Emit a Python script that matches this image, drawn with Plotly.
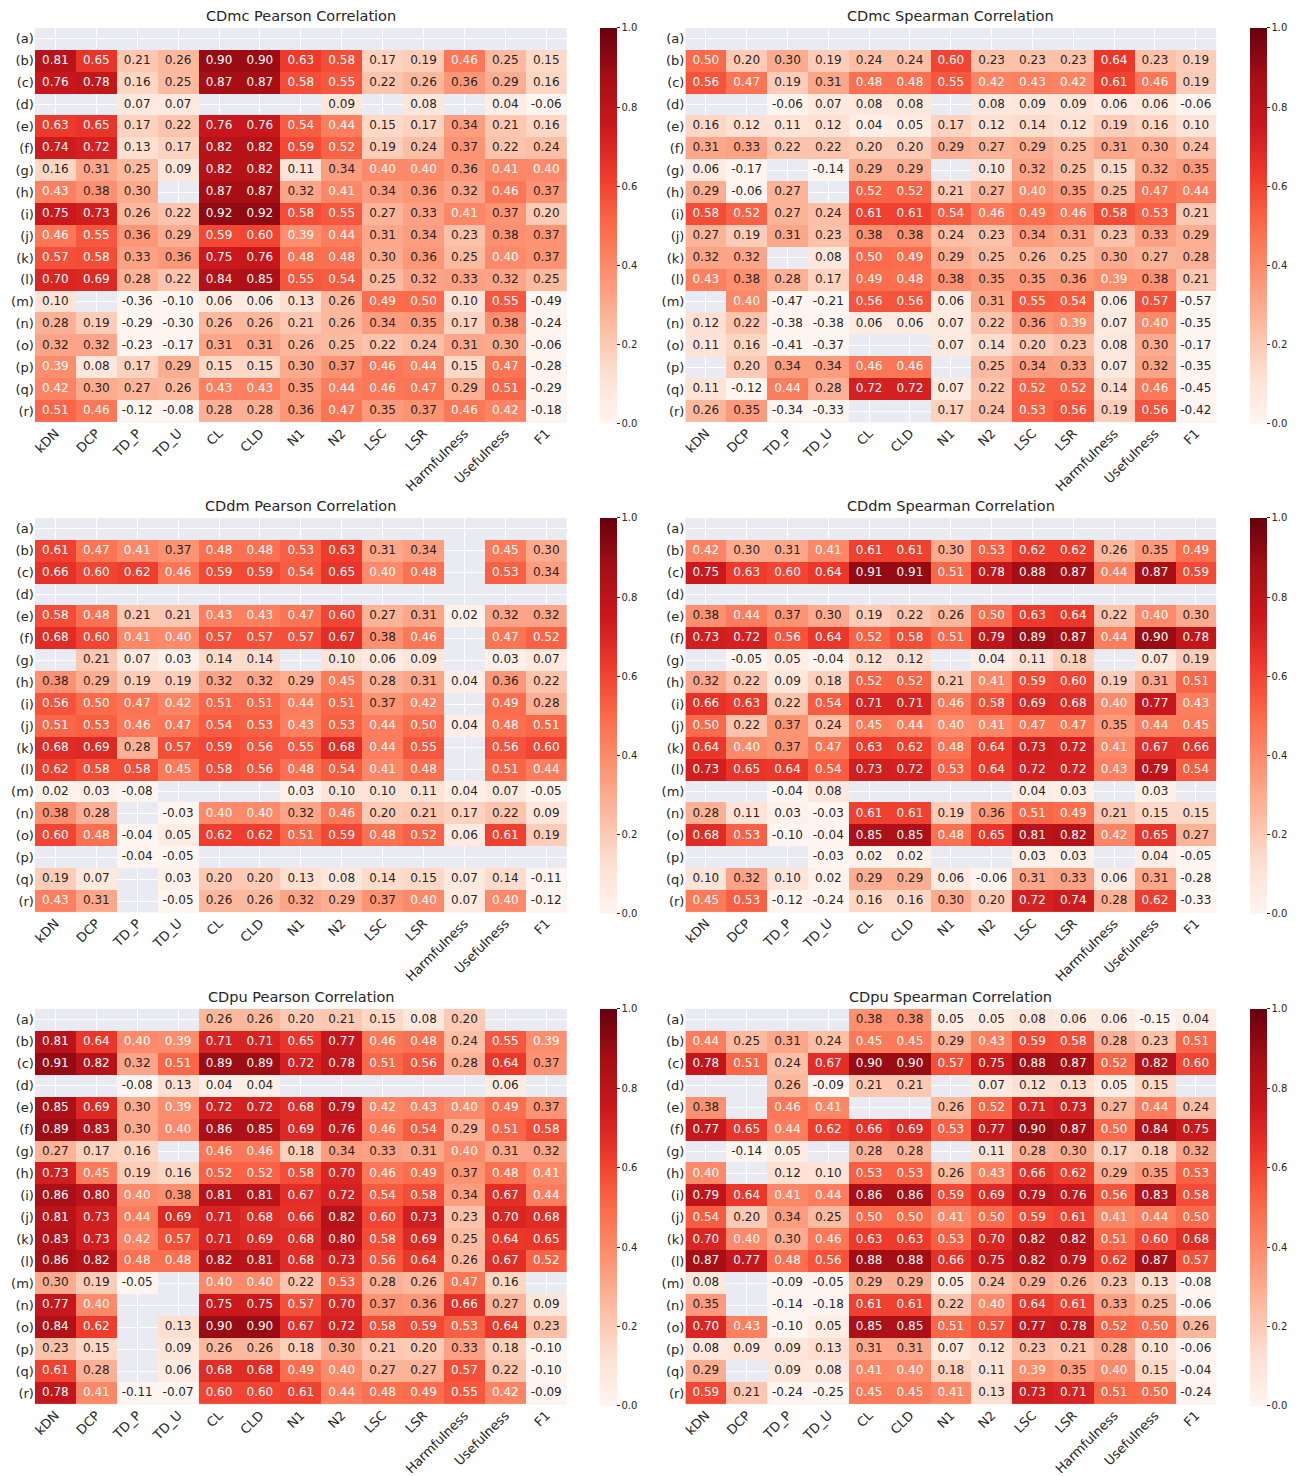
import plotly.graph_objects as go
from plotly.colors import sequential

N = None

metrics = ["kDN", "DCP", "TD_P", "TD_U", "CL", "CLD", "N1", "N2", "LSC", "LSR",
           "Harmfulness", "Usefulness", "F1"]
rows = ["(a)", "(b)", "(c)", "(d)", "(e)", "(f)", "(g)", "(h)", "(i)", "(j)",
        "(k)", "(l)", "(m)", "(n)", "(o)", "(p)", "(q)", "(r)"]

cdmc_pearson = [
    [N, N, N, N, N, N, N, N, N, N, N, N, N],
    [0.81, 0.65, 0.21, 0.26, 0.90, 0.90, 0.63, 0.58, 0.17, 0.19, 0.46, 0.25, 0.15],
    [0.76, 0.78, 0.16, 0.25, 0.87, 0.87, 0.58, 0.55, 0.22, 0.26, 0.36, 0.29, 0.16],
    [N, N, 0.07, 0.07, N, N, N, 0.09, N, 0.08, N, 0.04, -0.06],
    [0.63, 0.65, 0.17, 0.22, 0.76, 0.76, 0.54, 0.44, 0.15, 0.17, 0.34, 0.21, 0.16],
    [0.74, 0.72, 0.13, 0.17, 0.82, 0.82, 0.59, 0.52, 0.19, 0.24, 0.37, 0.22, 0.24],
    [0.16, 0.31, 0.25, 0.09, 0.82, 0.82, 0.11, 0.34, 0.40, 0.40, 0.36, 0.41, 0.40],
    [0.43, 0.38, 0.30, N, 0.87, 0.87, 0.32, 0.41, 0.34, 0.36, 0.32, 0.46, 0.37],
    [0.75, 0.73, 0.26, 0.22, 0.92, 0.92, 0.58, 0.55, 0.27, 0.33, 0.41, 0.37, 0.20],
    [0.46, 0.55, 0.36, 0.29, 0.59, 0.60, 0.39, 0.44, 0.31, 0.34, 0.23, 0.38, 0.37],
    [0.57, 0.58, 0.33, 0.36, 0.75, 0.76, 0.48, 0.48, 0.30, 0.36, 0.25, 0.40, 0.37],
    [0.70, 0.69, 0.28, 0.22, 0.84, 0.85, 0.55, 0.54, 0.25, 0.32, 0.33, 0.32, 0.25],
    [0.10, N, -0.36, -0.10, 0.06, 0.06, 0.13, 0.26, 0.49, 0.50, 0.10, 0.55, -0.49],
    [0.28, 0.19, -0.29, -0.30, 0.26, 0.26, 0.21, 0.26, 0.34, 0.35, 0.17, 0.38, -0.24],
    [0.32, 0.32, -0.23, -0.17, 0.31, 0.31, 0.26, 0.25, 0.22, 0.24, 0.31, 0.30, -0.06],
    [0.39, 0.08, 0.17, 0.29, 0.15, 0.15, 0.30, 0.37, 0.46, 0.44, 0.15, 0.47, -0.28],
    [0.42, 0.30, 0.27, 0.26, 0.43, 0.43, 0.35, 0.44, 0.46, 0.47, 0.29, 0.51, -0.29],
    [0.51, 0.46, -0.12, -0.08, 0.28, 0.28, 0.36, 0.47, 0.35, 0.37, 0.46, 0.42, -0.18],
]

cdmc_spearman = [
    [N, N, N, N, N, N, N, N, N, N, N, N, N],
    [0.50, 0.20, 0.30, 0.19, 0.24, 0.24, 0.60, 0.23, 0.23, 0.23, 0.64, 0.23, 0.19],
    [0.56, 0.47, 0.19, 0.31, 0.48, 0.48, 0.55, 0.42, 0.43, 0.42, 0.61, 0.46, 0.19],
    [N, N, -0.06, 0.07, 0.08, 0.08, N, 0.08, 0.09, 0.09, 0.06, 0.06, -0.06],
    [0.16, 0.12, 0.11, 0.12, 0.04, 0.05, 0.17, 0.12, 0.14, 0.12, 0.19, 0.16, 0.10],
    [0.31, 0.33, 0.22, 0.22, 0.20, 0.20, 0.29, 0.27, 0.29, 0.25, 0.31, 0.30, 0.24],
    [0.06, -0.17, N, -0.14, 0.29, 0.29, N, 0.10, 0.32, 0.25, 0.15, 0.32, 0.35],
    [0.29, -0.06, 0.27, N, 0.52, 0.52, 0.21, 0.27, 0.40, 0.35, 0.25, 0.47, 0.44],
    [0.58, 0.52, 0.27, 0.24, 0.61, 0.61, 0.54, 0.46, 0.49, 0.46, 0.58, 0.53, 0.21],
    [0.27, 0.19, 0.31, 0.23, 0.38, 0.38, 0.24, 0.23, 0.34, 0.31, 0.23, 0.33, 0.29],
    [0.32, 0.32, N, 0.08, 0.50, 0.49, 0.29, 0.25, 0.26, 0.25, 0.30, 0.27, 0.28],
    [0.43, 0.38, 0.28, 0.17, 0.49, 0.48, 0.38, 0.35, 0.35, 0.36, 0.39, 0.38, 0.21],
    [N, 0.40, -0.47, -0.21, 0.56, 0.56, 0.06, 0.31, 0.55, 0.54, 0.06, 0.57, -0.57],
    [0.12, 0.22, -0.38, -0.38, 0.06, 0.06, 0.07, 0.22, 0.36, 0.39, 0.07, 0.40, -0.35],
    [0.11, 0.16, -0.41, -0.37, N, N, 0.07, 0.14, 0.20, 0.23, 0.08, 0.30, -0.17],
    [N, 0.20, 0.34, 0.34, 0.46, 0.46, N, 0.25, 0.34, 0.33, 0.07, 0.32, -0.35],
    [0.11, -0.12, 0.44, 0.28, 0.72, 0.72, 0.07, 0.22, 0.52, 0.52, 0.14, 0.46, -0.45],
    [0.26, 0.35, -0.34, -0.33, N, N, 0.17, 0.24, 0.53, 0.56, 0.19, 0.56, -0.42],
]

cddm_pearson = [
    [N, N, N, N, N, N, N, N, N, N, N, N, N],
    [0.61, 0.47, 0.41, 0.37, 0.48, 0.48, 0.53, 0.63, 0.31, 0.34, N, 0.45, 0.30],
    [0.66, 0.60, 0.62, 0.46, 0.59, 0.59, 0.54, 0.65, 0.40, 0.48, N, 0.53, 0.34],
    [N, N, N, N, N, N, N, N, N, N, N, N, N],
    [0.58, 0.48, 0.21, 0.21, 0.43, 0.43, 0.47, 0.60, 0.27, 0.31, 0.02, 0.32, 0.32],
    [0.68, 0.60, 0.41, 0.40, 0.57, 0.57, 0.57, 0.67, 0.38, 0.46, N, 0.47, 0.52],
    [N, 0.21, 0.07, 0.03, 0.14, 0.14, N, 0.10, 0.06, 0.09, N, 0.03, 0.07],
    [0.38, 0.29, 0.19, 0.19, 0.32, 0.32, 0.29, 0.45, 0.28, 0.31, 0.04, 0.36, 0.22],
    [0.56, 0.50, 0.47, 0.42, 0.51, 0.51, 0.44, 0.51, 0.37, 0.42, N, 0.49, 0.28],
    [0.51, 0.53, 0.46, 0.47, 0.54, 0.53, 0.43, 0.53, 0.44, 0.50, 0.04, 0.48, 0.51],
    [0.68, 0.69, 0.28, 0.57, 0.59, 0.56, 0.55, 0.68, 0.44, 0.55, N, 0.56, 0.60],
    [0.62, 0.58, 0.58, 0.45, 0.58, 0.56, 0.48, 0.54, 0.41, 0.48, N, 0.51, 0.44],
    [0.02, 0.03, -0.08, N, N, N, 0.03, 0.10, 0.10, 0.11, 0.04, 0.07, -0.05],
    [0.38, 0.28, N, -0.03, 0.40, 0.40, 0.32, 0.46, 0.20, 0.21, 0.17, 0.22, 0.09],
    [0.60, 0.48, -0.04, 0.05, 0.62, 0.62, 0.51, 0.59, 0.48, 0.52, 0.06, 0.61, 0.19],
    [N, N, -0.04, -0.05, N, N, N, N, N, N, N, N, N],
    [0.19, 0.07, N, 0.03, 0.20, 0.20, 0.13, 0.08, 0.14, 0.15, 0.07, 0.14, -0.11],
    [0.43, 0.31, N, -0.05, 0.26, 0.26, 0.32, 0.29, 0.37, 0.40, 0.07, 0.40, -0.12],
]

cddm_spearman = [
    [N, N, N, N, N, N, N, N, N, N, N, N, N],
    [0.42, 0.30, 0.31, 0.41, 0.61, 0.61, 0.30, 0.53, 0.62, 0.62, 0.26, 0.35, 0.49],
    [0.75, 0.63, 0.60, 0.64, 0.91, 0.91, 0.51, 0.78, 0.88, 0.87, 0.44, 0.87, 0.59],
    [N, N, N, N, N, N, N, N, N, N, N, N, N],
    [0.38, 0.44, 0.37, 0.30, 0.19, 0.22, 0.26, 0.50, 0.63, 0.64, 0.22, 0.40, 0.30],
    [0.73, 0.72, 0.56, 0.64, 0.52, 0.58, 0.51, 0.79, 0.89, 0.87, 0.44, 0.90, 0.78],
    [N, -0.05, 0.05, -0.04, 0.12, 0.12, N, 0.04, 0.11, 0.18, N, 0.07, 0.19],
    [0.32, 0.22, 0.09, 0.18, 0.52, 0.52, 0.21, 0.41, 0.59, 0.60, 0.19, 0.31, 0.51],
    [0.66, 0.63, 0.22, 0.54, 0.71, 0.71, 0.46, 0.58, 0.69, 0.68, 0.40, 0.77, 0.43],
    [0.50, 0.22, 0.37, 0.24, 0.45, 0.44, 0.40, 0.41, 0.47, 0.47, 0.35, 0.44, 0.45],
    [0.64, 0.40, 0.37, 0.47, 0.63, 0.62, 0.48, 0.64, 0.73, 0.72, 0.41, 0.67, 0.66],
    [0.73, 0.65, 0.64, 0.54, 0.73, 0.72, 0.53, 0.64, 0.72, 0.72, 0.43, 0.79, 0.54],
    [N, N, -0.04, 0.08, N, N, N, N, 0.04, 0.03, N, 0.03, N],
    [0.28, 0.11, 0.03, -0.03, 0.61, 0.61, 0.19, 0.36, 0.51, 0.49, 0.21, 0.15, 0.15],
    [0.68, 0.53, -0.10, -0.04, 0.85, 0.85, 0.48, 0.65, 0.81, 0.82, 0.42, 0.65, 0.27],
    [N, N, N, -0.03, 0.02, 0.02, N, N, 0.03, 0.03, N, 0.04, -0.05],
    [0.10, 0.32, 0.10, 0.02, 0.29, 0.29, 0.06, -0.06, 0.31, 0.33, 0.06, 0.31, -0.28],
    [0.45, 0.53, -0.12, -0.24, 0.16, 0.16, 0.30, 0.20, 0.72, 0.74, 0.28, 0.62, -0.33],
]

cdpu_pearson = [
    [N, N, N, N, 0.26, 0.26, 0.20, 0.21, 0.15, 0.08, 0.20, N, N],
    [0.81, 0.64, 0.40, 0.39, 0.71, 0.71, 0.65, 0.77, 0.46, 0.48, 0.24, 0.55, 0.39],
    [0.91, 0.82, 0.32, 0.51, 0.89, 0.89, 0.72, 0.78, 0.51, 0.56, 0.28, 0.64, 0.37],
    [N, N, -0.08, 0.13, 0.04, 0.04, N, N, N, N, N, 0.06, N],
    [0.85, 0.69, 0.30, 0.39, 0.72, 0.72, 0.68, 0.79, 0.42, 0.43, 0.40, 0.49, 0.37],
    [0.89, 0.83, 0.30, 0.40, 0.86, 0.85, 0.69, 0.76, 0.46, 0.54, 0.29, 0.51, 0.58],
    [0.27, 0.17, 0.16, N, 0.46, 0.46, 0.18, 0.34, 0.33, 0.31, 0.40, 0.31, 0.32],
    [0.73, 0.45, 0.19, 0.16, 0.52, 0.52, 0.58, 0.70, 0.46, 0.49, 0.37, 0.48, 0.41],
    [0.86, 0.80, 0.40, 0.38, 0.81, 0.81, 0.67, 0.72, 0.54, 0.58, 0.34, 0.67, 0.44],
    [0.81, 0.73, 0.44, 0.69, 0.71, 0.68, 0.66, 0.82, 0.60, 0.73, 0.23, 0.70, 0.68],
    [0.83, 0.73, 0.42, 0.57, 0.71, 0.69, 0.68, 0.80, 0.58, 0.69, 0.25, 0.64, 0.65],
    [0.86, 0.82, 0.48, 0.48, 0.82, 0.81, 0.68, 0.73, 0.56, 0.64, 0.26, 0.67, 0.52],
    [0.30, 0.19, -0.05, N, 0.40, 0.40, 0.22, 0.53, 0.28, 0.26, 0.47, 0.16, N],
    [0.77, 0.40, N, N, 0.75, 0.75, 0.57, 0.70, 0.37, 0.36, 0.66, 0.27, 0.09],
    [0.84, 0.62, N, 0.13, 0.90, 0.90, 0.67, 0.72, 0.58, 0.59, 0.53, 0.64, 0.23],
    [0.23, 0.15, N, 0.09, 0.26, 0.26, 0.18, 0.30, 0.21, 0.20, 0.33, 0.18, -0.10],
    [0.61, 0.28, N, 0.06, 0.68, 0.68, 0.49, 0.40, 0.27, 0.27, 0.57, 0.22, -0.10],
    [0.78, 0.41, -0.11, -0.07, 0.60, 0.60, 0.61, 0.44, 0.48, 0.49, 0.55, 0.42, -0.09],
]

cdpu_spearman = [
    [N, N, N, N, 0.38, 0.38, 0.05, 0.05, 0.08, 0.06, 0.06, -0.15, 0.04],
    [0.44, 0.25, 0.31, 0.24, 0.45, 0.45, 0.29, 0.43, 0.59, 0.58, 0.28, 0.23, 0.51],
    [0.78, 0.51, 0.24, 0.67, 0.90, 0.90, 0.57, 0.75, 0.88, 0.87, 0.52, 0.82, 0.60],
    [N, N, 0.26, -0.09, 0.21, 0.21, N, 0.07, 0.12, 0.13, 0.05, 0.15, N],
    [0.38, N, 0.46, 0.41, N, N, 0.26, 0.52, 0.71, 0.73, 0.27, 0.44, 0.24],
    [0.77, 0.65, 0.44, 0.62, 0.66, 0.69, 0.53, 0.77, 0.90, 0.87, 0.50, 0.84, 0.75],
    [N, -0.14, 0.05, N, 0.28, 0.28, N, 0.11, 0.28, 0.30, 0.17, 0.18, 0.32],
    [0.40, N, 0.12, 0.10, 0.53, 0.53, 0.26, 0.43, 0.66, 0.62, 0.29, 0.35, 0.53],
    [0.79, 0.64, 0.41, 0.44, 0.86, 0.86, 0.59, 0.69, 0.79, 0.76, 0.56, 0.83, 0.58],
    [0.54, 0.20, 0.34, 0.25, 0.50, 0.50, 0.41, 0.50, 0.59, 0.61, 0.41, 0.44, 0.50],
    [0.70, 0.40, 0.30, 0.46, 0.63, 0.63, 0.53, 0.70, 0.82, 0.82, 0.51, 0.60, 0.68],
    [0.87, 0.77, 0.48, 0.56, 0.88, 0.88, 0.66, 0.75, 0.82, 0.79, 0.62, 0.87, 0.57],
    [0.08, N, -0.09, -0.05, 0.29, 0.29, 0.05, 0.24, 0.29, 0.26, 0.23, 0.13, -0.08],
    [0.35, N, -0.14, -0.18, 0.61, 0.61, 0.22, 0.40, 0.64, 0.61, 0.33, 0.25, -0.06],
    [0.70, 0.43, -0.10, 0.05, 0.85, 0.85, 0.51, 0.57, 0.77, 0.78, 0.52, 0.50, 0.26],
    [0.08, 0.09, 0.09, 0.13, 0.31, 0.31, 0.07, 0.12, 0.23, 0.21, 0.28, 0.10, -0.06],
    [0.29, N, 0.09, 0.08, 0.41, 0.40, 0.18, 0.11, 0.39, 0.35, 0.40, 0.15, -0.04],
    [0.59, 0.21, -0.24, -0.25, 0.45, 0.45, 0.41, 0.13, 0.73, 0.71, 0.51, 0.50, -0.24],
]

colorbar_ticks = [0.0, 0.2, 0.4, 0.6, 0.8, 1.0]

panels = [
    ("CDmc Pearson Correlation", cdmc_pearson),
    ("CDmc Spearman Correlation", cdmc_spearman),
    ("CDdm Pearson Correlation", cddm_pearson),
    ("CDdm Spearman Correlation", cddm_spearman),
    ("CDpu Pearson Correlation", cdpu_pearson),
    ("CDpu Spearman Correlation", cdpu_spearman),
]

W, H = 1303, 1476
FONT = "DejaVu Sans"
INK = "#262626"
GRID_BG = "#EAEAF2"

# pixel boxes for the panels: column lefts/rights, row tops/bottoms
col_px = [(32, 565), (684, 1216)]
cbar_px = [598, 1250]
row_px = [(28, 424), (520, 916), (1013, 1410)]

reds = sequential.Reds
colorscale = [[i / (len(reds) - 1), c] for i, c in enumerate(reds)]

fig = go.Figure()
layout = dict(
    width=W, height=H,
    margin=dict(l=0, r=0, t=0, b=0),
    paper_bgcolor="white",
    plot_bgcolor=GRID_BG,
    showlegend=False,
    font=dict(family=FONT, color=INK),
    annotations=[],
)

for k, (title, z) in enumerate(panels):
    r, c = divmod(k, 2)
    left, right = col_px[c]
    top, bottom = row_px[r]
    ax = "" if k == 0 else str(k + 1)
    xref, yref = "x" + ax, "y" + ax

    fig.add_trace(go.Heatmap(
        z=z, x=metrics, y=rows,
        xaxis=xref, yaxis=yref,
        zmin=0, zmax=1, colorscale=colorscale,
        hoverongaps=False,
        colorbar=dict(
            x=cbar_px[c] / W, xanchor="left", xpad=0,
            y=1 - top / H, yanchor="top", ypad=0,
            len=bottom - top, lenmode="pixels",
            thickness=17, outlinewidth=0,
            tickvals=colorbar_ticks, tickformat=".1f",
            ticks="outside", ticklen=3, tickcolor=INK,
            tickfont=dict(family=FONT, size=10, color=INK),
        ),
    ))

    # cell value labels, white on dark cells
    tx, ty, tt, tc = [], [], [], []
    for i, rowvals in enumerate(z):
        for j, v in enumerate(rowvals):
            if v is None:
                continue
            tx.append(metrics[j])
            ty.append(rows[i])
            tt.append(f"{v:.2f}")
            tc.append("white" if v >= 0.39 else INK)
    fig.add_trace(go.Scatter(
        x=tx, y=ty, text=tt, mode="text",
        xaxis=xref, yaxis=yref,
        textfont=dict(family=FONT, size=12, color=tc),
        hoverinfo="skip",
    ))

    layout["xaxis" + ax] = dict(
        domain=[left / W, right / W], anchor=yref,
        type="category", categoryorder="array", categoryarray=metrics,
        range=[-0.5, len(metrics) - 0.5],
        tickangle=-45, tickfont=dict(family=FONT, size=13, color=INK),
        showgrid=True, gridcolor="white", gridwidth=1,
        zeroline=False, showline=False, ticks="",
    )
    layout["yaxis" + ax] = dict(
        domain=[1 - bottom / H, 1 - top / H], anchor=xref,
        type="category", categoryorder="array", categoryarray=rows,
        range=[len(rows) - 0.5, -0.5],
        tickfont=dict(family=FONT, size=13, color=INK),
        showgrid=True, gridcolor="white", gridwidth=1,
        zeroline=False, showline=False, ticks="",
    )
    layout["annotations"].append(dict(
        text=title, xref="paper", yref="paper",
        x=(left + right) / 2 / W, y=1 - (top - 12) / H,
        xanchor="center", yanchor="middle", showarrow=False,
        font=dict(family=FONT, size=14.5, color=INK),
    ))

fig.update_layout(**layout)
fig.write_html("out.html")
